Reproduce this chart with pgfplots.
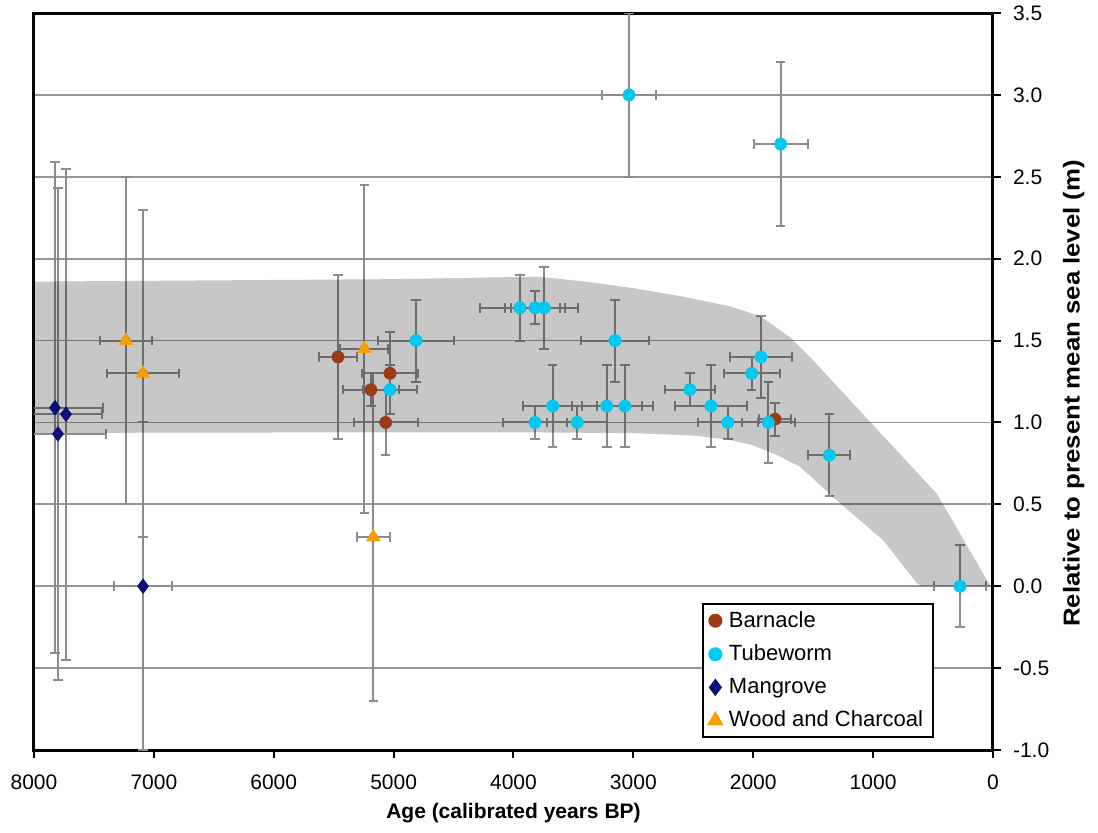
\documentclass[border=0pt]{standalone}
\usepackage{fontspec}
\setmainfont{Liberation Sans}
\usepackage{graphicx}
\usepackage{pgfplots}
\pgfplotsset{compat=1.18}
\usepackage{pgfplotstable}

\definecolor{barn}{RGB}{155,60,20}
\definecolor{tube}{RGB}{0,200,240}
\definecolor{mang}{RGB}{15,15,120}
\definecolor{wood}{RGB}{245,160,0}
\definecolor{errgray}{RGB}{140,140,140}
\definecolor{gridgray}{RGB}{150,150,150}

\pgfplotstableread{
x y ex ey
5464 1.40 160 0.50
5030 1.30 230 0.25
5189 1.20 230 0.10
5066 1.00 267 0.20
1818 1.02 130 0.10
}\barnacle

\pgfplotstableread{
x y ex ey
4813 1.50 320 0.25
5030 1.20 228 0.15
3946 1.70 330 0.20
3820 1.70 250 0.10
3743 1.70 280 0.25
3153 1.50 280 0.25
3820 1.00 265 0.10
3673 1.10 245 0.25
3468 1.00 250 0.10
3222 1.10 290 0.25
3070 1.10 235 0.25
3036 3.00 222 0.50
1771 2.70 224 0.50
1935 1.40 255 0.25
2013 1.30 235 0.10
2528 1.20 210 0.10
2352 1.10 300 0.25
2213 1.00 250 0.10
1874 1.00 220 0.25
1365 0.80 175 0.25
275 0.00 220 0.25
}\tubeworm

\pgfplotstableread{
x y ex ey
7825 1.09 400 1.50
7733 1.05 300 1.50
7800 0.93 400 1.50
7090 0.00 240 1.00
}\mangrove

\pgfplotstableread{
x y ex ey
7232 1.50 220 1.00
7090 1.30 300 1.00
5244 1.45 200 1.00
5169 0.30 140 1.00
}\woodchar

\begin{document}
\begin{tikzpicture}
\begin{axis}[
  scale only axis, width=479.5pt, height=368.5pt,
  xmin=0, xmax=8000, x dir=reverse,
  ymin=-1, ymax=3.5,
  xtick={0,1000,...,8000}, ytick={-1,-0.5,...,3.5},
  xtick pos=left, ytick pos=right, yticklabel pos=right,
  tick align=outside, major tick length=4pt,
  every tick/.style={black, line width=1pt},
  axis line style={line width=1.5pt},
  ymajorgrids, grid style={line width=0.9pt, color=gridgray},
  y tick label style={xshift=2.5pt, /pgf/number format/.cd, fixed, fixed zerofill, precision=1, assume math mode=true},
  x tick label style={yshift=-5pt, /pgf/number format/.cd, 1000 sep={}, assume math mode=true},
  tick label style={font=\fontsize{10.5}{12}\selectfont},
  xlabel={Age (calibrated years BP)},
  xlabel style={font=\fontsize{10.5}{12}\selectfont\bfseries},
  ylabel={\scalebox{1.12}[1]{Relative to present mean sea level (m)}},
  ylabel style={at={(ticklabel cs:0.484)}, font=\fontsize{11.5}{13}\selectfont\bfseries},
  error bars/error bar style={line width=1pt, color=errgray},
  error bars/error mark options={rotate=90, line width=1pt, color=errgray, mark size=2.4pt},
  legend style={at={(rel axis cs:0.9385,0.0163)}, anchor=south east, draw=black, line width=1pt,
    font=\fontsize{11}{12.5}\selectfont, row sep=3.3pt, inner ysep=1.5pt, inner xsep=3pt},
  legend cell align=left,
  legend image code/.code={\path (-2.5pt,0pt) (4.3pt,0pt); \draw[#1] plot coordinates {(0pt,0pt)};},
]
% error bars first (behind all markers)
\addplot[forget plot, only marks, mark=none,
  error bars/.cd, x dir=both, x explicit, y dir=both, y explicit]
  table[x=x, y=y, x error=ex, y error=ey]{\barnacle};
\addplot[forget plot, only marks, mark=none,
  error bars/.cd, x dir=both, x explicit, y dir=both, y explicit]
  table[x=x, y=y, x error=ex, y error=ey]{\tubeworm};
\addplot[forget plot, only marks, mark=none,
  error bars/.cd, x dir=both, x explicit, y dir=both, y explicit]
  table[x=x, y=y, x error=ex, y error=ey]{\mangrove};
\addplot[forget plot, only marks, mark=none,
  error bars/.cd, x dir=both, x explicit, y dir=both, y explicit]
  table[x=x, y=y, x error=ex, y error=ey]{\woodchar};
% markers
\addplot[only marks, mark=*, mark size=3pt, color=barn]
  table[x=x, y=y]{\barnacle};
\addlegendentry{Barnacle}
\addplot[only marks, mark=*, mark size=3pt, color=tube]
  table[x=x, y=y]{\tubeworm};
\addlegendentry{Tubeworm}
\addplot[only marks, mark=diamond*, mark size=3.6pt, color=mang]
  table[x=x, y=y]{\mangrove};
\addlegendentry{Mangrove}
\addplot[only marks, mark=triangle*, mark size=3.8pt, color=wood]
  table[x=x, y=y]{\woodchar};
\addlegendentry{Wood and Charcoal}
% shaded envelope, semi-transparent overlay
\addplot[forget plot, draw=none, fill=black, fill opacity=0.22] coordinates {
 (8000,1.86) (6000,1.87) (5000,1.875) (4200,1.885) (3800,1.89) (3400,1.86)
 (3000,1.82) (2600,1.77) (2200,1.71) (1944,1.65) (1693,1.52) (1527,1.40)
 (470,0.566) (20,0) (600,0) (636,0.02) (915,0.28) (1304,0.525) (1610,0.73)
 (1800,0.80) (2000,0.86) (2200,0.895) (2500,0.92) (3000,0.935) (4000,0.94)
 (5000,0.94) (8000,0.936)} -- cycle;
\end{axis}
\pgfresetboundingbox
\path ([shift={(-17pt,-41pt)}]current axis.south west) rectangle ([shift={(532pt,375pt)}]current axis.south west);
\end{tikzpicture}
\end{document}
